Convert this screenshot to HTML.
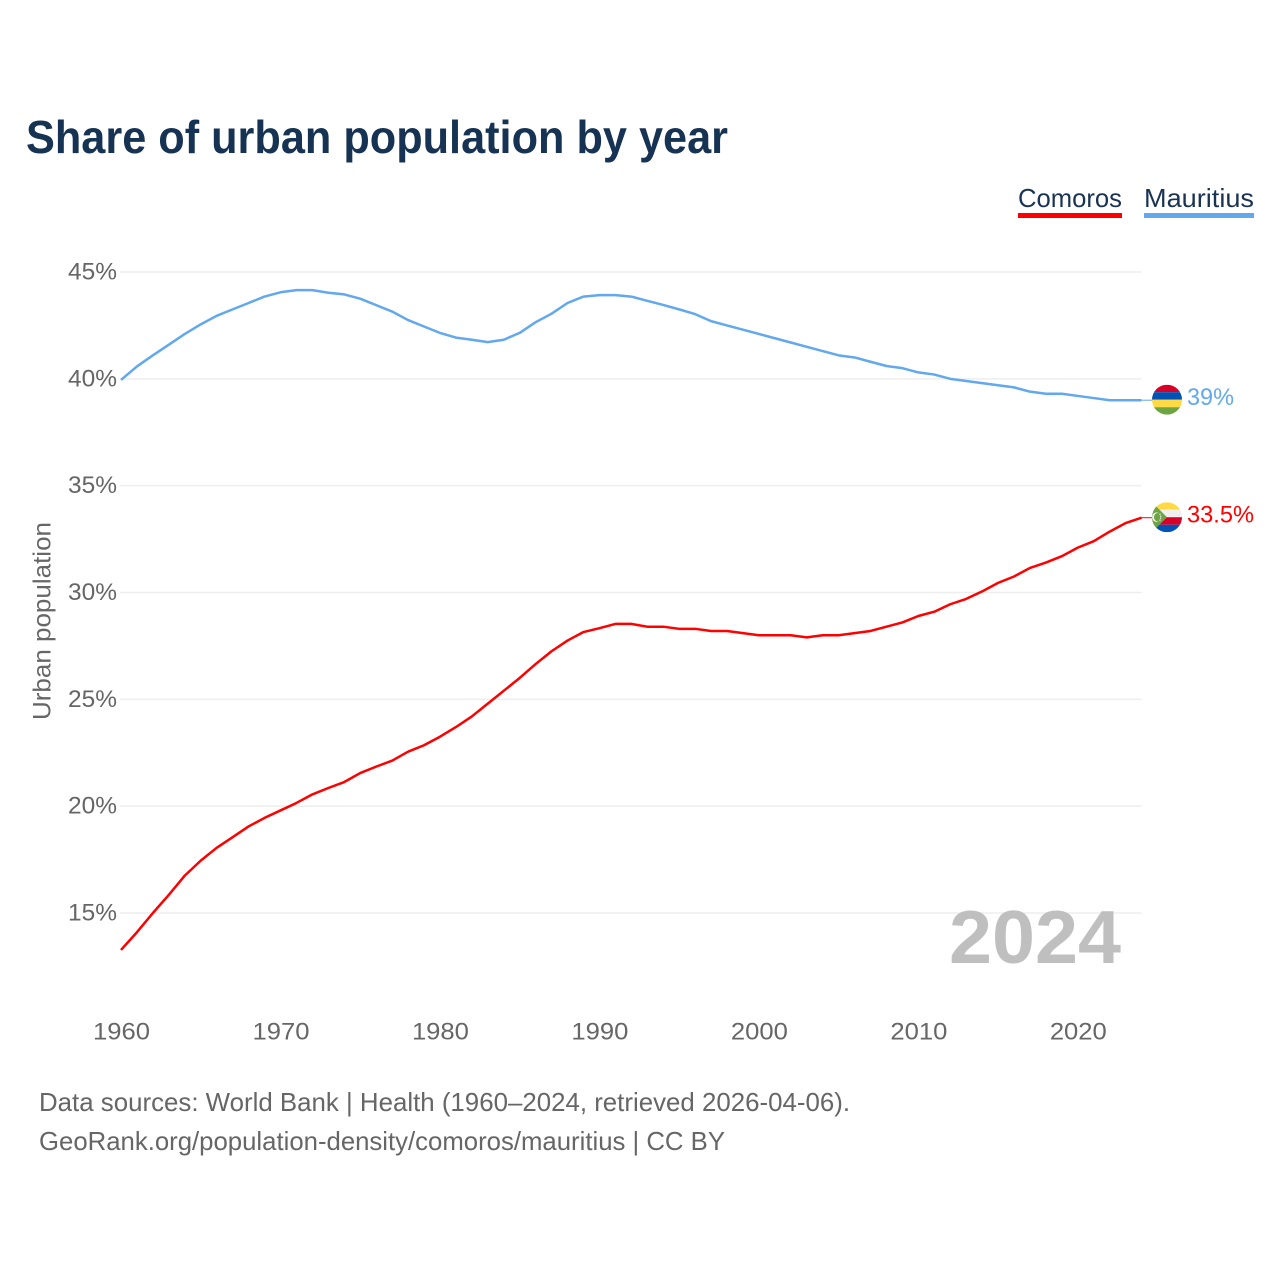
<!DOCTYPE html>
<html lang="en">
<head>
<meta charset="utf-8">
<title>Share of urban population by year</title>
<style>
html,body{margin:0;padding:0;background:#fff;}
svg{display:block;font-family:"Liberation Sans",sans-serif;}
</style>
</head>
<body>
<svg id="chart" width="1280" height="1280" viewBox="0 0 1280 1280" xmlns="http://www.w3.org/2000/svg">
  <defs>
    <clipPath id="flag-clip-m"><circle cx="0" cy="0" r="15"/></clipPath>
    <clipPath id="flag-clip-c"><circle cx="0" cy="0" r="15"/></clipPath>
  </defs>
  <rect width="1280" height="1280" fill="#fff"/>
  <text x="26" y="153" font-size="46" font-weight="700" fill="#173353" textLength="702" lengthAdjust="spacingAndGlyphs">Share of urban population by year</text>

  <text x="1018" y="207" font-size="26" fill="#1a3353" textLength="104" lengthAdjust="spacingAndGlyphs">Comoros</text>
  <rect x="1018" y="213" width="104" height="5" fill="#ff0000"/>
  <text x="1144" y="207" font-size="26" fill="#1a3353" textLength="110" lengthAdjust="spacingAndGlyphs">Mauritius</text>
  <rect x="1144" y="213" width="110" height="5" fill="#62a8ee"/>

  <g id="grid"></g>
  <g id="y-ticks"></g>
  <g id="x-ticks"></g>
  <text transform="translate(50.5,621) rotate(-90)" text-anchor="middle" font-size="25" fill="#666" textLength="198" lengthAdjust="spacingAndGlyphs">Urban population</text>

  <text x="949" y="963" font-size="75" font-weight="700" fill="#bfbfbf" textLength="172" lengthAdjust="spacingAndGlyphs">2024</text>

  <g id="series"></g>
  <g id="ends"></g>

  <text x="39" y="1111" font-size="26" fill="#666" textLength="811" lengthAdjust="spacingAndGlyphs">Data sources: World Bank | Health (1960–2024, retrieved 2026-04-06).</text>
  <text x="39" y="1150" font-size="26" fill="#666" textLength="686" lengthAdjust="spacingAndGlyphs">GeoRank.org/population-density/comoros/mauritius | CC BY</text>
</svg>
<script>
const years = [1960,1961,1962,1963,1964,1965,1966,1967,1968,1969,1970,1971,1972,1973,1974,1975,1976,1977,1978,1979,1980,1981,1982,1983,1984,1985,1986,1987,1988,1989,1990,1991,1992,1993,1994,1995,1996,1997,1998,1999,2000,2001,2002,2003,2004,2005,2006,2007,2008,2009,2010,2011,2012,2013,2014,2015,2016,2017,2018,2019,2020,2021,2022,2023,2024];
const comoros = [13.27,14.1,15.0,15.85,16.75,17.45,18.05,18.55,19.05,19.45,19.8,20.15,20.55,20.85,21.13,21.55,21.85,22.13,22.55,22.85,23.25,23.7,24.2,24.8,25.4,26.0,26.65,27.25,27.75,28.15,28.33,28.53,28.53,28.4,28.4,28.3,28.3,28.2,28.2,28.1,28.0,28.0,28.0,27.9,28.0,28.0,28.1,28.2,28.4,28.6,28.9,29.1,29.45,29.7,30.05,30.45,30.75,31.15,31.4,31.7,32.1,32.4,32.85,33.25,33.5];
const mauritius = [39.95,40.58,41.1,41.6,42.1,42.55,42.95,43.25,43.55,43.85,44.05,44.15,44.15,44.03,43.95,43.75,43.45,43.15,42.75,42.45,42.15,41.93,41.83,41.72,41.83,42.15,42.65,43.05,43.55,43.85,43.92,43.92,43.85,43.65,43.46,43.25,43.03,42.7,42.5,42.3,42.1,41.9,41.7,41.5,41.3,41.1,41.0,40.8,40.6,40.5,40.3,40.2,40.0,39.9,39.8,39.7,39.6,39.4,39.3,39.3,39.2,39.1,39.0,39.0,39.0];
const yTickValues = [15,20,25,30,35,40,45];
const yTickLabels = ["15%","20%","25%","30%","35%","40%","45%"];
const xTickValues = [1960,1970,1980,1990,2000,2010,2020];
const xTickLabels = ["1960","1970","1980","1990","2000","2010","2020"];
const comorosEndLabel = "33.5%";
const mauritiusEndLabel = "39%";

const NS = "http://www.w3.org/2000/svg";
function xScale(year){ return 121 + (year - 1960) * (1141.6 - 121) / 64; }
function yScale(value){ return 913 - (value - 15) * (913 - 272) / 30; }
function make(tag, parent, attrs, text){
  const el = document.createElementNS(NS, tag);
  for (const k in attrs) el.setAttribute(k, attrs[k]);
  if (text !== undefined) el.textContent = text;
  parent.appendChild(el);
  return el;
}

const gridGroup = document.getElementById("grid");
const yGroup = document.getElementById("y-ticks");
yTickValues.forEach(function(v, i){
  const line = make("line", gridGroup, {x1:120, x2:1141.6, y1:yScale(v), y2:yScale(v), stroke:"#eeeeee", "stroke-width":1.5});
  
  
  const label = make("text", yGroup, {x:117, y:yScale(v)+7.5, "text-anchor":"end", "font-size":24.5, fill:"#666", textLength:49, lengthAdjust:"spacingAndGlyphs"}, yTickLabels[i]);
  
  
});

const xGroup = document.getElementById("x-ticks");
xTickValues.forEach(function(v, i){
  const label = make("text", xGroup, {x:xScale(v)+0.5, y:1039.5, "text-anchor":"middle", "font-size":24.5, fill:"#666", textLength:57, lengthAdjust:"spacingAndGlyphs"}, xTickLabels[i]);
  
  
});

function pathFor(values){
  return values.map(function(v, i){
    return (i ? "L" : "M") + xScale(years[i]).toFixed(2) + " " + yScale(v).toFixed(2);
  }).join(" ");
}

const seriesGroup = document.getElementById("series");
const comorosLine = make("path", seriesGroup, {d:pathFor(comoros), fill:"none", stroke:"#ff0000", "stroke-width":2.5, "stroke-linejoin":"round"});


const mauritiusLine = make("path", seriesGroup, {d:pathFor(mauritius), fill:"none", stroke:"#62a8ee", "stroke-width":2.5, "stroke-linejoin":"round"});



const endsGroup = document.getElementById("ends");
const endX = xScale(years[years.length - 1]);
const cEndY = yScale(comoros[comoros.length - 1]);
const mEndY = yScale(mauritius[mauritius.length - 1]);

const cConnector = make("line", endsGroup, {x1:endX, x2:endX + 11, y1:cEndY, y2:cEndY, stroke:"#ff0000", "stroke-width":1});


const mConnector = make("line", endsGroup, {x1:endX, x2:endX + 11, y1:mEndY, y2:mEndY, stroke:"#62a8ee", "stroke-width":1});



const mFlag = make("g", endsGroup, {transform:"translate(1167," + (mEndY - 0.5).toFixed(2) + ")", "clip-path":"url(#flag-clip-m)"});


make("rect", mFlag, {x:-15, y:-15, width:30, height:7.5, fill:"#d80027"});
make("rect", mFlag, {x:-15, y:-7.5, width:30, height:7.5, fill:"#0052b4"});
make("rect", mFlag, {x:-15, y:0, width:30, height:7.5, fill:"#ffda44"});
make("rect", mFlag, {x:-15, y:7.5, width:30, height:7.5, fill:"#6da544"});

const cFlag = make("g", endsGroup, {transform:"translate(1167," + (cEndY - 0.5).toFixed(2) + ")", "clip-path":"url(#flag-clip-c)"});


make("rect", cFlag, {x:-15, y:-15, width:30, height:7.5, fill:"#ffda44"});
make("rect", cFlag, {x:-15, y:-7.5, width:30, height:7.5, fill:"#f0f0f0"});
make("rect", cFlag, {x:-15, y:0, width:30, height:7.5, fill:"#d80027"});
make("rect", cFlag, {x:-15, y:7.5, width:30, height:7.5, fill:"#0052b4"});
make("polygon", cFlag, {points:"-15,-15 0,0 -15,15", fill:"#6da544"});
make("path", cFlag, {d:"M-8.5 -4.5 A4.8 4.8 0 1 0 -8.5 4.5 A3.9 3.9 0 1 1 -8.5 -4.5 Z", fill:"#f0f0f0"});
make("circle", cFlag, {cx:-7, cy:-3, r:0.7, fill:"#f0f0f0"});
make("circle", cFlag, {cx:-6.4, cy:-1, r:0.7, fill:"#f0f0f0"});
make("circle", cFlag, {cx:-6.4, cy:1, r:0.7, fill:"#f0f0f0"});
make("circle", cFlag, {cx:-7, cy:3, r:0.7, fill:"#f0f0f0"});

const mLabel = make("text", endsGroup, {x:1187, y:mEndY + 5, "font-size":24.5, fill:"#62a8ee", textLength:47, lengthAdjust:"spacingAndGlyphs"}, mauritiusEndLabel);


const cLabel = make("text", endsGroup, {x:1187, y:cEndY + 5, "font-size":24.5, fill:"#ff0000", textLength:67, lengthAdjust:"spacingAndGlyphs"}, comorosEndLabel);


</script>
</body>
</html>
